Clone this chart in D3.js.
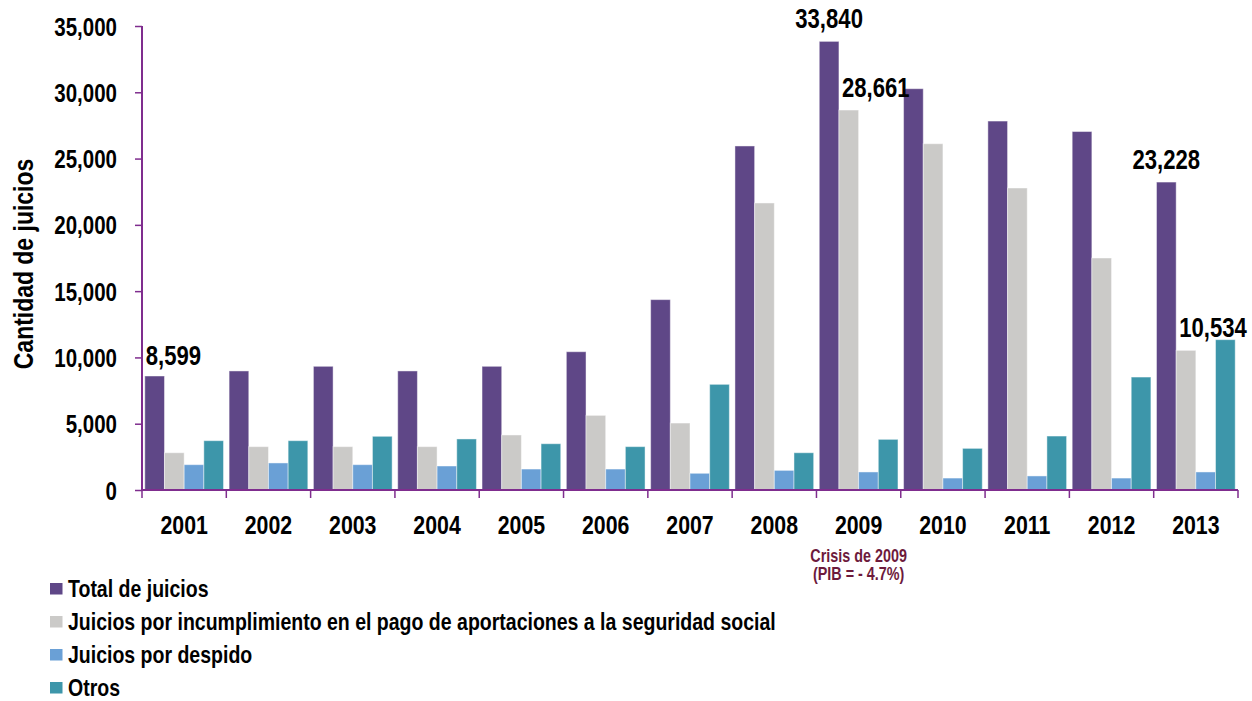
<!DOCTYPE html>
<html>
<head>
<meta charset="utf-8">
<script src="https://cdn.jsdelivr.net/npm/d3@7"></script>
<style>
  html, body { margin: 0; padding: 0; background: #fff; }
  svg { display: block; }
  .narrow { font-family: "Liberation Sans Narrow", "Arial Narrow", "Liberation Sans", Arial, sans-serif; font-weight: bold; }
</style>
</head>
<body>
<svg id="chart" width="1252" height="701"></svg>
<script>
// ---- Data ----
const years = ["2001","2002","2003","2004","2005","2006","2007","2008","2009","2010","2011","2012","2013"];
const seriesNames = [
  "Total de juicios",
  "Juicios por incumplimiento en el pago de aportaciones a la seguridad social",
  "Juicios por despido",
  "Otros"
];
const totalJuicios = [8599, 8980, 9330, 8980, 9330, 10430, 14360, 25950, 33840, 30270, 27830, 27040, 23228];
const seguridadSocial = [2810, 3270, 3270, 3270, 4150, 5630, 5050, 21650, 28661, 26120, 22780, 17500, 10534];
const porDespido = [1910, 2040, 1910, 1810, 1580, 1580, 1260, 1480, 1360, 900, 1060, 900, 1360];
const otros = [3720, 3720, 4050, 3850, 3490, 3270, 7970, 2810, 3820, 3140, 4070, 8520, 11340];
const yTicks = [0, 5000, 10000, 15000, 20000, 25000, 30000, 35000];
const labelled = [
  { series: 0, year: "2001" },
  { series: 0, year: "2009" },
  { series: 1, year: "2009" },
  { series: 0, year: "2013" },
  { series: 1, year: "2013" }
];
const annotationYear = "2009";
const annotationLines = ["Crisis de 2009", "(PIB = - 4.7%)"];
const yTitle = "Cantidad de juicios";

(function () {
  // ---- Styles ----
  const colors = ["#5f4787", "#cbcac8", "#6aa0d6", "#3d96aa"];
  const axisColor = "#7f2d8e";
  const SX = 0.82; // horizontal condensing to mimic a narrow bold face
  const seriesValues = [totalJuicios, seguridadSocial, porDespido, otros];

  const svg = d3.select("#chart");
  const mLeft = 142, mRight = 1238, mTop = 26, mBottom = 490;

  const x0 = d3.scaleBand().domain(years).range([mLeft, mRight]).padding(0);
  const gap = 2.8;
  const x1 = d3.scaleBand().domain(d3.range(4)).range([gap, x0.bandwidth() - gap]).padding(0);
  const y = d3.scaleLinear().domain([0, 35000]).range([mBottom, mTop]);

  function placeText(sel, x, y, rot) {
    sel.attr("x", 0).attr("y", 0)
       .attr("transform", `translate(${x},${y})${rot ? ` rotate(${rot})` : ""} scale(${SX},1)`);
  }

  // Bars
  const groups = svg.append("g").selectAll("g")
    .data(years).join("g")
    .attr("transform", d => `translate(${x0(d)},0)`);

  groups.selectAll("rect")
    .data((yr, i) => seriesValues.map((arr, s) => ({ s, v: arr[i] })))
    .join("rect")
    .attr("x", d => x1(d.s))
    .attr("width", x1.bandwidth())
    .attr("y", d => y(d.v))
    .attr("height", d => y(0) - y(d.v))
    .attr("fill", d => colors[d.s])
    .attr("stroke", "rgba(255,255,255,0.45)")
    .attr("stroke-width", 1);

  // Y axis
  const yAxis = d3.axisLeft(y).tickValues(yTicks).tickFormat(d3.format(",")).tickSize(7).tickPadding(18);
  const gy = svg.append("g").attr("transform", `translate(${mLeft},0)`).call(yAxis);
  gy.select(".domain").attr("stroke", axisColor).attr("stroke-width", 2).attr("d", `M0,${mTop}V${mBottom}`);
  gy.selectAll(".tick line").attr("stroke", axisColor).attr("stroke-width", 1.5);
  gy.selectAll(".tick text").attr("class", "narrow").attr("fill", "#000")
    .style("font-size", "25px").attr("dy", "0.36em")
    .each(function () { placeText(d3.select(this), -25, 0); });

  // X axis with boundary ticks
  const gx = svg.append("g").attr("transform", `translate(0,${mBottom})`);
  gx.append("line").attr("x1", mLeft).attr("x2", mRight).attr("y1", 0).attr("y2", 0)
    .attr("stroke", axisColor).attr("stroke-width", 2);
  const bounds = years.map(d => x0(d)).concat([x0(years[years.length - 1]) + x0.bandwidth()]);
  gx.selectAll("line.b").data(bounds).join("line").attr("class", "b")
    .attr("x1", d => d).attr("x2", d => d).attr("y1", 0).attr("y2", 8)
    .attr("stroke", axisColor).attr("stroke-width", 1.5);
  gx.selectAll("text.yl").data(years).join("text").attr("class", "yl narrow")
    .attr("text-anchor", "middle")
    .style("font-size", "26px")
    .text(d => d)
    .each(function (d) { placeText(d3.select(this), x0(d) + x0.bandwidth() / 2, 44); });

  // Annotation
  svg.append("g").selectAll("text").data(annotationLines).join("text")
    .attr("class", "narrow")
    .attr("text-anchor", "middle")
    .attr("fill", "#6d1a3c")
    .style("font-size", "17.5px")
    .text(d => d)
    .each(function (d, i) { placeText(d3.select(this), x0(annotationYear) + x0.bandwidth() / 2, 562 + i * 18); });

  // Y title
  svg.append("text").attr("class", "narrow")
    .attr("text-anchor", "middle")
    .style("font-size", "28px")
    .text(yTitle)
    .call(placeText, 33, 264, -90);

  // Data labels
  const fmt = d3.format(",");
  svg.append("g").selectAll("text").data(labelled).join("text")
    .attr("class", "narrow")
    .style("font-size", "27px")
    .each(function (d) {
      const i = years.indexOf(d.year);
      const v = seriesValues[d.series][i];
      const bx = x0(d.year) + x1(d.series);
      const cx = bx + x1.bandwidth() / 2;
      const el = d3.select(this).text(fmt(v));
      if (d.series === 1) {
        el.attr("text-anchor", "middle"); placeText(el, cx + 27, y(v) - 13);
      } else if (d.year === years[0]) {
        el.attr("text-anchor", "start"); placeText(el, bx + 1, y(v) - 11);
      } else {
        el.attr("text-anchor", "middle"); placeText(el, cx, y(v) - 13);
      }
    });

  // Legend
  const lg = svg.append("g").selectAll("g").data(seriesNames).join("g")
    .attr("transform", (d, i) => `translate(50,${597 + i * 33})`);
  lg.append("rect").attr("x", 0).attr("y", -14).attr("width", 12.5).attr("height", 11.5)
    .attr("fill", (d, i) => colors[i]);
  lg.append("text").attr("class", "narrow")
    .style("font-size", "23.8px").text(d => d)
    .each(function () { placeText(d3.select(this), 18, 0); });
})();
</script>
</body>
</html>
